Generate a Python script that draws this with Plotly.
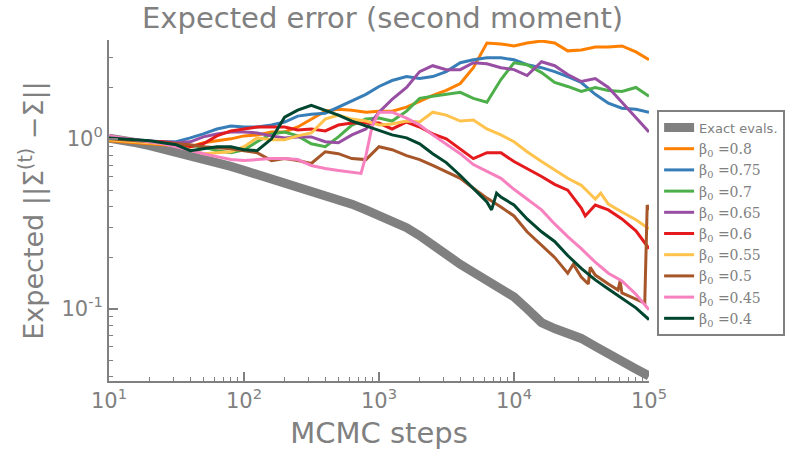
import plotly.graph_objects as go

# common MCMC-step grid (10 points per decade)
steps = [10, 12.5, 16, 20, 25, 31.5, 40, 50, 63, 80,
         100, 125, 160, 200, 250, 315, 400, 500, 630, 800,
         1000, 1250, 1600, 2000, 2500, 3150, 4000, 5000, 6300, 8000,
         10000, 12500, 16000, 20000, 25000, 31500, 40000, 50000, 63000, 80000,
         100000]

exact = [1.01, 0.987, 0.948, 0.911, 0.875, 0.840, 0.797, 0.765, 0.725, 0.688,
         0.652, 0.618, 0.586, 0.555, 0.526, 0.499, 0.466, 0.442, 0.413, 0.382,
         0.357, 0.334, 0.300, 0.2695, 0.2357, 0.2062, 0.1828, 0.1642, 0.1456, 0.1309,
         0.1175, 0.1001, 0.0830, 0.0766, 0.0726, 0.0670, 0.0602, 0.0541, 0.0486, 0.0443,
         0.0403]

b080 = [0.974, 0.961, 0.948, 0.935, 0.923, 0.911, 0.899, 0.948, 0.974, 1.0,
        1.041, 1.055, 1.098, 1.098, 1.174, 1.307, 1.455, 1.494, 1.474, 1.435,
        1.455, 1.455, 1.535, 1.663, 1.802, 1.927, 2.117, 2.622, 3.664, 3.615,
        3.520, 3.664, 3.763, 3.664, 3.292, 3.336, 3.473, 3.473, 3.520, 3.248,
        2.918]

b075 = [1.013, 0.987, 0.974, 0.961, 0.961, 0.961, 1.013, 1.069, 1.143, 1.190,
        1.174, 1.174, 1.206, 1.256, 1.360, 1.397, 1.416, 1.535, 1.685, 1.827,
        2.033, 2.203, 2.324, 2.263, 2.324, 2.486, 2.803, 2.918, 2.997, 2.997,
        2.918, 2.729, 2.622, 2.486, 2.324, 2.145, 1.827, 1.619, 1.514, 1.494,
        1.435]

b070 = [1.0, 0.987, 0.974, 0.961, 0.948, 0.935, 0.911, 0.899, 0.852, 0.829,
        0.863, 0.961, 1.069, 1.098, 1.041, 0.935, 0.899, 1.027, 1.206, 1.307,
        1.325, 1.272, 1.455, 1.731, 1.778, 1.827, 1.876, 1.731, 1.641, 2.233,
        2.803, 2.729, 2.453, 2.145, 2.033, 1.901, 2.006, 1.927, 1.901, 2.006,
        1.778]

b065 = [1.013, 1.0, 0.987, 0.974, 0.961, 0.948, 0.961, 1.027, 1.069, 1.098,
        1.098, 1.083, 1.041, 1.013, 1.027, 1.027, 0.961, 0.948, 1.055, 1.143,
        1.435, 1.708, 2.006, 2.486, 2.693, 2.553, 2.553, 2.803, 2.766, 2.622,
        2.553, 2.356, 2.841, 2.693, 2.388, 2.174, 2.263, 2.006, 1.641, 1.342,
        1.098]

steps_b060 = sorted(steps + [33700])
b060 = [1.0, 0.987, 0.974, 0.961, 0.961, 0.935, 0.899, 0.935, 1.041, 1.113,
        1.143, 1.174, 1.174, 1.174, 1.128, 1.143, 1.113, 1.206, 1.239, 1.239,
        1.239, 1.143, 1.256, 1.174, 1.069, 1.0, 0.875, 0.765, 0.829, 0.829,
        0.735, 0.669, 0.601, 0.540, 0.499, 0.392, 0.352, 0.408, 0.382, 0.338,
        0.288, 0.226]

steps_b055 = sorted(steps + [43900])
b055 = [0.987, 0.974, 0.961, 0.948, 0.935, 0.911, 0.863, 0.818, 0.829, 0.840,
        0.899, 1.013, 0.987, 0.987, 1.041, 1.083, 1.307, 1.379, 1.307, 1.272,
        1.206, 1.222, 1.272, 1.256, 1.435, 1.379, 1.272, 1.290, 1.143, 1.055,
        0.961, 0.840, 0.735, 0.660, 0.586, 0.533, 0.442, 0.479, 0.413, 0.371,
        0.334, 0.296]

steps_b050 = sorted(steps + [27500, 35500, 36700, 59000, 61100, 93000, 97000])
b050 = [1.0, 0.987, 0.974, 0.961, 0.948, 0.935, 0.923, 0.899, 0.887, 0.875,
        0.852, 0.829, 0.745, 0.765, 0.745, 0.716, 0.840, 0.818, 0.765, 0.755,
        0.899, 0.863, 0.797, 0.755, 0.697, 0.643, 0.586, 0.512, 0.448, 0.397,
        0.352, 0.284, 0.236, 0.2007, 0.162, 0.183, 0.1536, 0.140, 0.1756, 0.158,
        0.140, 0.129, 0.146, 0.124, 0.114, 0.108, 0.408, 0.382]

steps_b045 = sorted(steps + [736, 890])
b045 = [1.041, 1.013, 0.987, 0.961, 0.935, 0.899, 0.852, 0.818, 0.786, 0.755,
        0.745, 0.755, 0.765, 0.765, 0.755, 0.697, 0.669, 0.652, 0.634, 0.626,
        0.797, 1.190, 1.435, 1.435, 1.325, 1.206, 1.055, 0.935, 0.818, 0.706,
        0.643, 0.586, 0.505, 0.442, 0.382, 0.316, 0.266, 0.226, 0.188, 0.162,
        0.146, 0.122, 0.0988]

steps_b040 = sorted(steps + [6820, 7430])
b040 = [1.013, 1.0, 0.987, 0.974, 0.948, 0.923, 0.852, 0.875, 0.899, 0.899,
        0.863, 0.852, 1.0, 1.342, 1.474, 1.576, 1.474, 1.379, 1.272, 1.190,
        1.128, 1.055, 1.013, 0.935, 0.818, 0.725, 0.609, 0.512, 0.425, 0.382,
        0.479, 0.454, 0.408, 0.338, 0.284, 0.249, 0.206, 0.173, 0.148, 0.131,
        0.116, 0.1014, 0.0864]

series = [
    ("β<sub>0</sub> =0.8", steps, b080, "#ff7f00"),
    ("β<sub>0</sub> =0.75", steps, b075, "#377eb8"),
    ("β<sub>0</sub> =0.7", steps, b070, "#4daf4a"),
    ("β<sub>0</sub> =0.65", steps, b065, "#984ea3"),
    ("β<sub>0</sub> =0.6", steps_b060, b060, "#e41a1c"),
    ("β<sub>0</sub> =0.55", steps_b055, b055, "#ffc34d"),
    ("β<sub>0</sub> =0.5", steps_b050, b050, "#a65628"),
    ("β<sub>0</sub> =0.45", steps_b045, b045, "#f781bf"),
    ("β<sub>0</sub> =0.4", steps_b040, b040, "#00452f"),
]

GRAY = "#808080"
fig = go.Figure()
fig.add_trace(go.Scatter(x=steps, y=exact, mode="lines",
                         name='<span style="font-family:DejaVu Sans;font-size:13px">Exact evals.</span>',
                         line=dict(color=GRAY, width=9)))
for name, xs, ys, col in series:
    fig.add_trace(go.Scatter(x=xs, y=ys, mode="lines", name=name,
                             line=dict(color=col, width=3)))

minor_x = [m * 10 ** e for e in range(1, 5) for m in range(2, 10)]
minor_y = [m * 10 ** e for e in range(-2, 1) for m in range(2, 10)]

axis_common = dict(showgrid=False, zeroline=False, showline=True, linecolor=GRAY,
                   linewidth=2, ticks="inside", ticklen=9, tickwidth=1.5,
                   tickcolor=GRAY, tickfont=dict(size=21, color=GRAY, family="DejaVu Sans"),
                   mirror=False)

fig.update_layout(
    width=797, height=456,
    margin=dict(l=109, r=146, t=40, b=71),
    paper_bgcolor="white", plot_bgcolor="white",
    title=dict(text="Expected error (second moment)", x=0.48, xanchor="center",
               y=0.96, yanchor="middle",
               font=dict(size=29, color=GRAY, family="DejaVu Sans")),
    xaxis=dict(type="log", range=[1, 5], tickmode="array",
               tickvals=[10, 100, 1000, 10000, 100000],
               ticktext=["10<sup>1</sup>", "10<sup>2</sup>", "10<sup>3</sup>",
                         "10<sup>4</sup>", "10<sup>5</sup>"],
               minor=dict(tickmode="array", tickvals=minor_x, ticks="inside",
                          ticklen=4, tickcolor=GRAY, tickwidth=1),
               title=dict(text="MCMC steps", standoff=10,
                          font=dict(size=29, color=GRAY, family="DejaVu Sans")),
               **axis_common),
    yaxis=dict(type="log", range=[-1.4244, 0.5814], tickmode="array",
               tickvals=[0.1, 1],
               ticktext=["10<sup>-1</sup>", "10<sup>0</sup>"],
               minor=dict(tickmode="array", tickvals=minor_y, ticks="inside",
                          ticklen=4, tickcolor=GRAY, tickwidth=1),
               title=dict(text="Expected ||Σ<sup>(t)</sup> −Σ||", standoff=10,
                          font=dict(size=27, color=GRAY, family="DejaVu Sans")),
               **axis_common),
    legend=dict(x=1.015, y=0.795, xanchor="left", yanchor="top",
                bordercolor=GRAY, borderwidth=2, bgcolor="white",
                font=dict(size=14, color=GRAY, family="DejaVu Serif")),
    showlegend=True,
)

fig.write_html("out.html")
